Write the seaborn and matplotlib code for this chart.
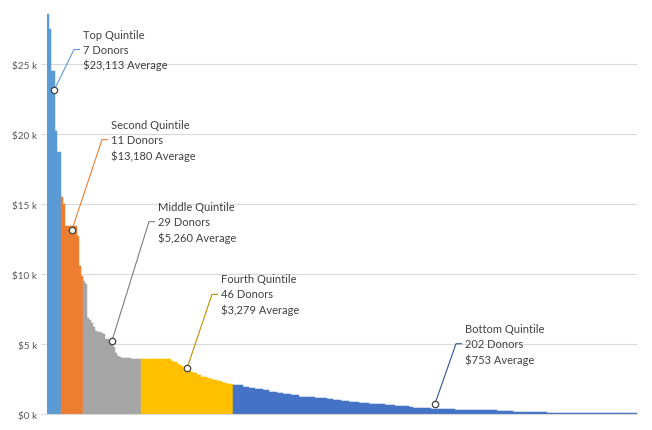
import numpy as np
import pandas as pd
import matplotlib
matplotlib.use("Agg")
import matplotlib.pyplot as plt
import seaborn as sns
from matplotlib.ticker import FuncFormatter, MultipleLocator

# ---------------- data ----------------
quintiles = ["Top Quintile", "Second Quintile", "Middle Quintile",
             "Fourth Quintile", "Bottom Quintile"]
donors = [7, 11, 29, 46, 202]
averages = [23113, 13180, 5260, 3279, 753]

top_gifts = [28600, 27500, 24500, 24500, 20200, 18700, 18700]
second_gifts = [15500, 15000, 13450, 13450, 13450, 13450, 13450, 13450,
                12700, 10600, 9900]
middle_gifts = [9500, 9300, 6900, 6700, 6550, 6200, 5950, 5850, 5850, 5800,
                5750, 5400, 5350, 5200, 5000, 4800, 4400, 4150, 4120, 4050,
                4050, 4050, 4050, 4050, 3980, 3980, 3980, 3980, 3980]
fourth_gifts = [3930, 3930, 3930, 3930, 3930, 3930, 3930, 3930, 3930, 3930,
                3930, 3930, 3930, 3930, 3930, 3780, 3760, 3700, 3570, 3500,
                3450, 3290, 3290, 3290, 3100, 3000, 2980, 2950, 2820, 2790,
                2690, 2690, 2690, 2620, 2550, 2550, 2450, 2450, 2380, 2380,
                2300, 2260, 2260, 2140, 2140, 2140]
bottom_gifts = [2090, 2090, 2090, 2090, 2090,
                1980, 1980, 1980,
                1900, 1900, 1900,
                1830, 1830, 1830, 1830,
                1760, 1760, 1760,
                1620, 1620, 1620, 1620,
                1550, 1550, 1550,
                1480, 1480, 1480, 1480,
                1360, 1360, 1360, 1360,
                1260, 1260, 1260, 1260, 1260, 1260, 1260, 1260,
                1190, 1190, 1190, 1190, 1190, 1190,
                1120, 1120, 1120,
                1050, 1050, 1050, 1050,
                980, 980, 980, 980,
                900, 900, 900, 900, 900,
                830, 830, 830, 830, 830,
                760, 760, 760, 760, 760, 760, 760, 760,
                690, 690, 690, 690, 690,
                620, 620, 620, 620, 620, 620, 620,
                550, 550,
                480, 480, 480, 480, 480, 480, 480, 480, 480,
                400, 400, 400, 400, 400, 400, 400, 400, 400, 400, 400, 400,
                330, 330, 330, 330, 330, 330, 330, 330, 330, 330, 330,
                330, 330, 330, 330, 330, 330, 330, 330, 330, 330,
                260, 260, 260, 260, 260, 260, 260, 260,
                190, 190, 190, 190, 190, 190, 190, 190, 190, 190,
                190, 190, 190, 190, 190, 190, 190,
                125, 125, 125, 125, 125, 125, 125, 125, 125, 125,
                125, 125, 125, 125, 125, 125, 125, 125, 125,
                70, 70, 70, 70, 70, 70, 70, 70, 70, 70, 70, 70, 70,
                70, 70, 70, 70, 70, 70, 70, 70, 70, 70, 70, 70, 70]

y_ticks = [0, 5000, 10000, 15000, 20000, 25000]

# ---------------- style ----------------
bar_colors = ["#5B9BD5", "#ED7D31", "#A5A5A5", "#FFC000", "#4472C4"]
leader_colors = ["#5B9BD5", "#ED7D31", "#7F7F7F", "#BF9000", "#2F5597"]
# label offsets (image pixels: dx right, dy up) from marker to leader elbow
label_offsets = [(20, 41), (30, 90), (37, 119), (25, 74), (21, 60)]

groups = [top_gifts, second_gifts, middle_gifts, fourth_gifts, bottom_gifts]
for g, n in zip(groups, donors):
    if len(g) != n:
        raise ValueError(f"count mismatch {len(g)} vs {n}")

rows = []
for name, g in zip(quintiles, groups):
    for v in g:
        rows.append((name, v))
df = pd.DataFrame(rows, columns=["quintile", "gift"])
df["rank"] = np.arange(len(df))

sns.set_theme(style="white")
plt.rcParams["font.family"] = ["Lato", "DejaVu Sans"]

W, H = 652, 431
fig = plt.figure(figsize=(W / 100, H / 100), dpi=100)
y0_px, ytop_px, x0_px, x1_px = 415.3, 8, 47, 637
ax = fig.add_axes([x0_px / W, (H - y0_px) / H, (x1_px - x0_px) / W,
                   (y0_px - ytop_px) / H])

sns.barplot(data=df, x="rank", y="gift", hue="quintile", hue_order=quintiles,
            palette=bar_colors, dodge=False, width=1.0, saturation=1,
            linewidth=0, legend=False, ax=ax, zorder=2)
for p in ax.patches:
    p.set_edgecolor(p.get_facecolor())
    p.set_linewidth(0.35)

px_per_k = 14.01
ax.set_xlim(-0.5, len(df) - 0.5)
ax.set_ylim(0, (y0_px - ytop_px) / px_per_k * 1000)
ax.set_xticks([])
ax.set_xlabel("")
ax.set_ylabel("")
ax.yaxis.set_major_locator(MultipleLocator(5000))
ax.set_yticks(y_ticks)
ax.yaxis.set_major_formatter(FuncFormatter(lambda v, p: f"${v/1000:.0f} k"))
ax.tick_params(axis="y", labelsize=7.2, labelcolor="#595959", length=4,
               color="#D9D9D9", width=0.8, pad=3, left=True)
ax.grid(axis="y", color="#D9D9D9", linewidth=0.8, zorder=0)
ax.set_axisbelow(True)
for s in ["top", "right", "left"]:
    ax.spines[s].set_visible(False)
ax.spines["bottom"].set_color("#D9D9D9")
ax.spines["bottom"].set_linewidth(0.8)

# ---------------- annotations ----------------
starts = np.cumsum([0] + donors[:-1])
inv = ax.transData.inverted()
for i, name in enumerate(quintiles):
    mx = starts[i] + (donors[i] - 1) / 2
    my = averages[i]
    px, py = ax.transData.transform((mx, my))
    dx, dy = label_offsets[i]
    ex, ey = inv.transform((px + dx, py + dy))
    hx, _ = inv.transform((px + dx + 6, py + dy))
    tx, _ = inv.transform((px + dx + 9, py + dy))
    ax.plot([mx, ex, hx], [my, ey, ey], color=leader_colors[i], lw=0.8,
            zorder=4, clip_on=False, solid_capstyle="butt")
    ax.plot([mx], [my], marker="o", ms=4.6, mfc="white", mec="#404040",
            mew=0.9, zorder=5, clip_on=False)
    ax.text(tx, ey, f"{name}\n{donors[i]} Donors\n${averages[i]:,} Average",
            ha="left", va="center", fontsize=8, color="#404040",
            linespacing=1.45, zorder=6)

fig.savefig("out.png", dpi=100, facecolor="white")
